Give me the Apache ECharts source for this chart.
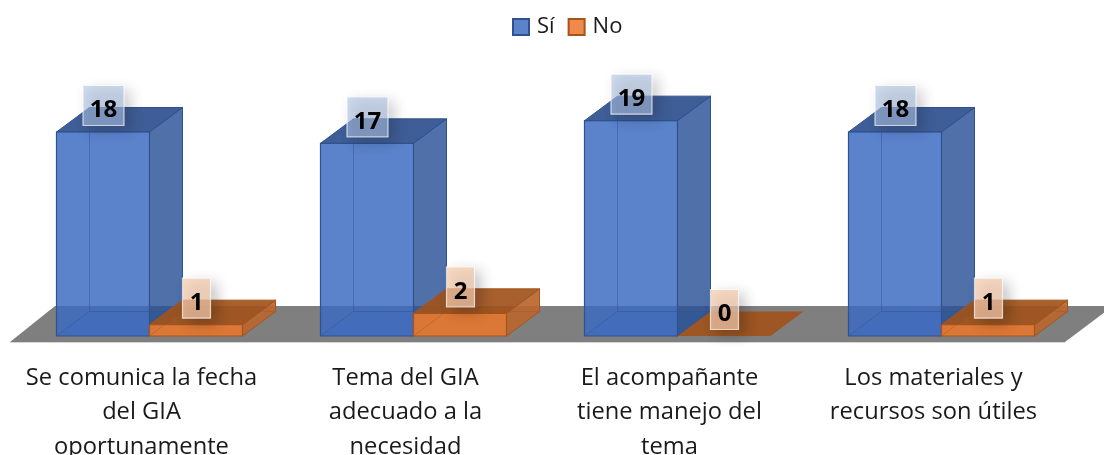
<!DOCTYPE html>
<html><head><meta charset="utf-8">
<style>html,body{margin:0;padding:0;background:#fff}#c{width:1104px;height:455px}</style>
<script src="https://cdn.jsdelivr.net/npm/echarts@6/dist/echarts.min.js"></script>
</head><body><div id="c"></div>
<script>
const categories = ['Se comunica la fecha\ndel GIA\noportunamente','Tema del GIA\nadecuado a la\nnecesidad','El acompañante\ntiene manejo del\ntema','Los materiales y\nrecursos son útiles'];
const siValues = [18,17,19,18];
const noValues = [1,2,0,1];
const FONT = '"Open Sans", "Noto Sans", sans-serif';
const DX = 33, DY = -24.5;
const pal = {
  blue:{front:'rgba(60,107,194,0.84)',side:'rgba(40,80,150,0.82)',top:'rgba(35,70,135,0.87)',bottom:'rgba(50,100,185,0.25)',edge:'#2f528f',inner:'rgba(47,82,143,0.45)',
        tag:'rgba(175,196,230,0.6)'},
  orange:{front:'rgba(224,120,52,0.96)',side:'rgba(185,102,48,0.92)',top:'rgba(160,82,28,0.92)',bottom:'rgba(0,0,0,0)',edge:'#a85418',inner:'rgba(168,84,24,0.4)',
        tag:'rgba(248,205,175,0.72)'}
};
function poly(points,fill,stroke,lw){return {type:'polygon',shape:{points},style:{fill,stroke:stroke||null,lineWidth:lw||0}};}
function box(side,p){return function(params,api){
  const cat=api.value(0), val=api.value(1);
  const c=api.coord([cat,val]), base=api.coord([cat,0]);
  const w=api.size([1,0])[0]*93/264;
  const x0=side===0?base[0]-w:base[0], x1=x0+w, yt=c[1], yb=base[1];
  const ch=[];
  const e=val>0?p.edge:null;
  if(val>0){
    ch.push(poly([[x0,yb],[x1,yb],[x1+DX,yb+DY],[x0+DX,yb+DY]],p.bottom));
    ch.push(poly([[x1,yt],[x1+DX,yt+DY],[x1+DX,yb+DY],[x1,yb]],p.side,e,1));
  }
  ch.push(poly([[x0,yt],[x1,yt],[x1+DX,yt+DY],[x0+DX,yt+DY]],p.top,e,1));
  if(val>0){
    ch.push(poly([[x0,yt],[x1,yt],[x1,yb],[x0,yb]],p.front,e,1.2));
    ch.push({type:'line',shape:{x1:x0+DX,y1:yt+DY,x2:x0+DX,y2:yb+DY},style:{stroke:p.inner,lineWidth:1}});
    ch.push({type:'line',shape:{x1:x0,y1:yb,x2:x0+DX,y2:yb+DY},style:{stroke:p.inner,lineWidth:1}});
    ch.push({type:'line',shape:{x1:x0+DX,y1:yb+DY,x2:x1+DX,y2:yb+DY},style:{stroke:p.inner,lineWidth:1}});
  }
  const s=String(val), bw=s.length>1?41:28, cx=x0+47, cy=yt-26.5;
  ch.push({type:'rect',shape:{x:cx-bw/2,y:cy-20,width:bw,height:40},
    style:{fill:p.tag,stroke:'rgba(255,255,255,0.7)',lineWidth:1.2,shadowBlur:14,shadowOffsetX:6,shadowOffsetY:5,shadowColor:'rgba(0,0,0,0.3)'}});
  ch.push({type:'text',style:{x:cx,y:cy+5,text:s,fill:'#000',font:'700 24px '+FONT,align:'center',verticalAlign:'middle'}});
  return {type:'group',children:ch};
};}
function floor(params,api){
  const cs=params.coordSys, y0=api.coord([0,0])[1];
  const l=cs.x-7.5, r=cs.x+cs.width-8.5;
  return {type:'group',children:[
    poly([[l,y0+6],[r,y0+6],[r+48,y0-30],[l+45,y0-30]],'#7f7f7f'),
    {type:'line',shape:{x1:l,y1:y0+6.5,x2:r,y2:y0+6.5},style:{stroke:'#d4d4d4',lineWidth:1}}
  ]};
}
const chart=echarts.init(document.getElementById('c'),null,{renderer:'canvas'});
chart.setOption({
  animation:false,
  backgroundColor:'#fff',
  legend:{data:['Sí','No'],left:507,top:11,icon:'rect',itemWidth:16,itemHeight:16,itemGap:13,
    textStyle:{fontFamily:FONT,fontSize:22,color:'#1a1a1a',padding:[0,0,0,3]}},
  grid:{left:17.5,width:1056,top:109.33,height:226.67,outerBoundsMode:'none'},
  xAxis:{type:'category',data:categories,axisLine:{show:false},axisTick:{show:false},splitLine:{show:false},
    axisLabel:{interval:0,margin:25,fontFamily:FONT,fontSize:23.7,color:'#1a1a1a',lineHeight:34.5,padding:[0,16,0,0]}},
  yAxis:{type:'value',min:0,max:20,interval:5,show:false},
  series:[
    {type:'custom',silent:true,data:[[0,0]],renderItem:floor,encode:{x:0,y:1},z:1},
    {name:'Sí',type:'custom',data:siValues.map((v,i)=>[i,v]),renderItem:box(0,pal.blue),encode:{x:0,y:1},z:2,
      itemStyle:{color:'#5b83cc',borderColor:'#2f528f',borderWidth:1.5}},
    {name:'No',type:'custom',data:noValues.map((v,i)=>[i,v]),renderItem:box(1,pal.orange),encode:{x:0,y:1},z:3,
      itemStyle:{color:'#ee8a4c',borderColor:'#a85418',borderWidth:1.5}}
  ]
});
</script></body></html>
